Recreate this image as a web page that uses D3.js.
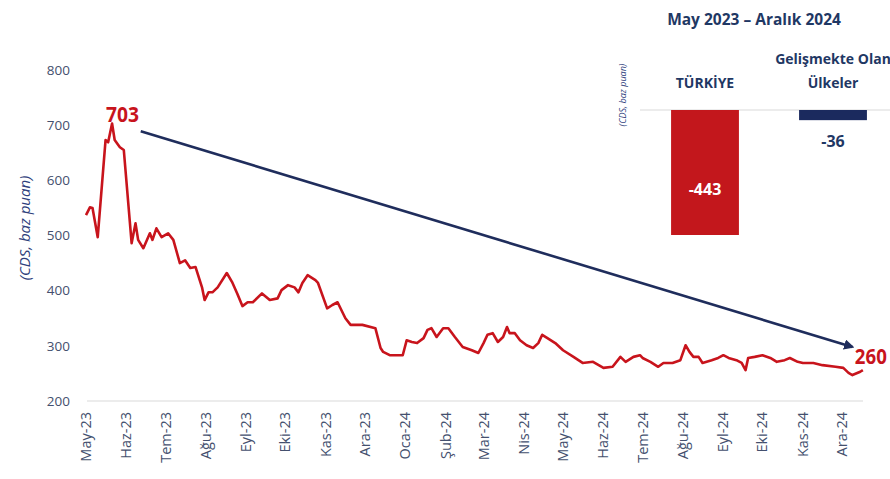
<!DOCTYPE html>
<html>
<head>
<meta charset="utf-8">
<script src="https://cdn.jsdelivr.net/npm/d3@7"></script>
<style>
  body { margin: 0; background: #fff; overflow: hidden; }
  svg { display: block; }
  text { font-family: "Open Sans", "Noto Sans", sans-serif; }
</style>
</head>
<body>
<svg id="chart" width="890" height="479"></svg>
<script>
// Türkiye 5Y CDS, daily-ish readings (baz puan)
var cdsDates = [
  "2023-05-01","2023-05-04","2023-05-06","2023-05-10","2023-05-16","2023-05-18","2023-05-21","2023-05-23","2023-05-27","2023-05-30",
  "2023-06-05","2023-06-08","2023-06-10","2023-06-14","2023-06-19","2023-06-21","2023-06-24","2023-06-28","2023-07-03","2023-07-07",
  "2023-07-12","2023-07-16","2023-07-20","2023-07-24","2023-07-29","2023-07-31","2023-08-03","2023-08-06","2023-08-10","2023-08-17",
  "2023-08-21","2023-08-25","2023-08-29","2023-09-02","2023-09-06","2023-09-13","2023-09-19","2023-09-25","2023-09-28","2023-10-03",
  "2023-10-08","2023-10-11","2023-10-14","2023-10-18","2023-10-24","2023-10-26","2023-11-02","2023-11-06","2023-11-10","2023-11-16",
  "2023-11-20","2023-11-29","2023-12-09","2023-12-13","2023-12-15","2023-12-20","2023-12-30","2024-01-02","2024-01-06","2024-01-10",
  "2024-01-15","2024-01-18","2024-01-21","2024-01-25","2024-01-30","2024-02-03","2024-02-08","2024-02-14","2024-02-21","2024-02-26",
  "2024-03-01","2024-03-04","2024-03-08","2024-03-12","2024-03-16","2024-03-19","2024-03-21","2024-03-25","2024-03-29","2024-04-03",
  "2024-04-08","2024-04-12","2024-04-15","2024-04-19","2024-04-25","2024-05-01","2024-05-09","2024-05-16","2024-05-24","2024-06-01",
  "2024-06-08","2024-06-14","2024-06-18","2024-06-24","2024-06-29","2024-07-01","2024-07-07","2024-07-13","2024-07-17","2024-07-24",
  "2024-07-30","2024-08-03","2024-08-06","2024-08-09","2024-08-13","2024-08-16","2024-08-23","2024-08-28","2024-09-01","2024-09-05",
  "2024-09-11","2024-09-15","2024-09-18","2024-09-20","2024-09-25","2024-10-01","2024-10-07","2024-10-12","2024-10-18","2024-10-22",
  "2024-10-28","2024-11-01","2024-11-09","2024-11-16","2024-11-26","2024-12-02","2024-12-06","2024-12-09","2024-12-15","2024-12-17"
];
var cdsValues = [
  537, 551, 550, 497, 673, 669, 703, 673, 660, 655,
  486, 522, 492, 477, 504, 492, 513, 497, 504, 492,
  450, 455, 441, 443, 406, 383, 397, 397, 406, 432,
  416, 395, 372, 379, 379, 395, 383, 386, 401, 410,
  406, 397, 414, 428, 419, 414, 368, 374, 379, 350,
  338, 338, 332, 296, 289, 283, 283, 310, 307, 305,
  314, 329, 332, 316, 332, 332, 316, 298, 292, 287,
  305, 320, 323, 307, 316, 334, 323, 323, 310, 301,
  296, 305, 320, 314, 305, 292, 280, 269, 271, 260,
  262, 280, 271, 280, 283, 278, 271, 262, 269, 269,
  274, 301, 289, 280, 280, 269, 274, 278, 283, 278,
  274, 269, 256, 278, 280, 283, 278, 271, 274, 278,
  271, 269, 269, 265, 262, 260, 251, 247, 253, 256
];

// trend arrow (start / end)
var arrowDates = ["2023-06-12", "2024-12-09"];
var arrowValues = [689, 298];
var peakLabel = "703";
var endLabel = "260";

var yTicks = [200, 300, 400, 500, 600, 700, 800];
var monthNames = ["Oca", "Şub", "Mar", "Nis", "May", "Haz", "Tem", "Ağu", "Eyl", "Eki", "Kas", "Ara"];

// inset: change May 2023 – Aralık 2024
var insetTitle = "May 2023 – Aralık 2024";
var insetCategories = [["TÜRKİYE"], ["Gelişmekte Olan", "Ülkeler"]];
var insetValues = [-443, -36];
var insetColors = ["#c3171c", "#1b2a5e"];

var red = "#c8141c";
var navy = "#1f2d5c";
var tickColor = "#44506e";

var parse = d3.timeParse("%Y-%m-%d");
var data = cdsDates.map(function(d, i) { return { date: parse(d), value: cdsValues[i] }; });

var svg = d3.select("#chart");

var x = d3.scaleTime()
  .domain([parse("2023-05-01"), parse("2024-12-01")])
  .range([86, 842]);

var y = d3.scaleLinear()
  .domain([200, 800])
  .range([401, 70]);

// y axis labels (no line)
svg.append("g")
  .selectAll("text")
  .data(yTicks)
  .enter().append("text")
  .attr("x", 70)
  .attr("y", function(d) { return y(d); })
  .attr("dy", "0.35em")
  .attr("text-anchor", "end")
  .style("font-size", "13.5px")
  .style("fill", tickColor)
  .text(function(d) { return d; });

svg.append("text")
  .attr("transform", "translate(30,228) rotate(-90)")
  .attr("text-anchor", "middle")
  .style("font-size", "15px")
  .style("font-style", "italic")
  .style("fill", "#2f3f7d")
  .text("(CDS, baz puan)");

// baseline
svg.append("line")
  .attr("x1", 87).attr("x2", 863)
  .attr("y1", y(200)).attr("y2", y(200))
  .style("stroke", "#d9d9d9")
  .style("stroke-width", 1.2);

// x axis month labels
var months = d3.timeMonth.range(parse("2023-05-01"), d3.timeDay.offset(parse("2024-12-01"), 1));
svg.append("g")
  .selectAll("text")
  .data(months)
  .enter().append("text")
  .attr("transform", function(d) { return "translate(" + (x(d) + 5) + ",412) rotate(-90)"; })
  .attr("text-anchor", "end")
  .style("font-size", "14.5px")
  .style("fill", tickColor)
  .text(function(d) { return monthNames[d.getMonth()] + "-" + d3.timeFormat("%y")(d); });

// CDS line
var line = d3.line()
  .x(function(d) { return x(d.date); })
  .y(function(d) { return y(d.value); });

svg.append("path")
  .datum(data)
  .attr("d", line)
  .style("fill", "none")
  .style("stroke", red)
  .style("stroke-width", 2.6)
  .style("stroke-linejoin", "round");

// trend arrow
svg.append("defs").append("marker")
  .attr("id", "head")
  .attr("viewBox", "0 0 10 10")
  .attr("refX", 8).attr("refY", 5)
  .attr("markerWidth", 4).attr("markerHeight", 4)
  .attr("orient", "auto")
  .append("path")
  .attr("d", "M0,0 L10,5 L0,10 z")
  .style("fill", navy);

svg.append("line")
  .attr("x1", x(parse(arrowDates[0]))).attr("y1", y(arrowValues[0]))
  .attr("x2", x(parse(arrowDates[1]))).attr("y2", y(arrowValues[1]))
  .style("stroke", navy)
  .style("stroke-width", 2.6)
  .attr("marker-end", "url(#head)");

// peak / end labels
var peak = data[d3.maxIndex(data, function(d) { return d.value; })];
svg.append("text")
  .attr("x", x(peak.date) - 6)
  .attr("y", y(peak.value) - 2)
  .attr("textLength", 33)
  .attr("lengthAdjust", "spacingAndGlyphs")
  .style("font-size", "21px")
  .style("font-weight", "bold")
  .style("fill", red)
  .text(peakLabel);

var last = data[data.length - 1];
svg.append("text")
  .attr("x", x(last.date) - 8)
  .attr("y", y(last.value) - 6)
  .attr("textLength", 32)
  .attr("lengthAdjust", "spacingAndGlyphs")
  .style("font-size", "21px")
  .style("font-weight", "bold")
  .style("fill", red)
  .text(endLabel);

// ---- inset bar chart ----
var bx = d3.scaleBand()
  .domain(insetCategories.map(function(d) { return d.join(" "); }))
  .range([641, 897])
  .paddingInner(0.47)
  .paddingOuter(0.235);

var by = d3.scaleLinear()
  .domain([0, -443])
  .range([110, 235]);

svg.append("text")
  .attr("x", 754).attr("y", 25)
  .attr("text-anchor", "middle")
  .style("font-size", "15.5px")
  .style("font-weight", "bold")
  .style("fill", "#1f3864")
  .text(insetTitle);

svg.append("text")
  .attr("transform", "translate(626,95) rotate(-90)")
  .attr("text-anchor", "middle")
  .style("font-size", "9px")
  .style("font-style", "italic")
  .style("fill", "#2f3f7d")
  .text("(CDS, baz puan)");

var cats = svg.append("g")
  .selectAll("text")
  .data(insetCategories)
  .enter().append("text")
  .attr("text-anchor", "middle")
  .style("font-size", "14px")
  .style("font-weight", "bold")
  .style("fill", "#1f3864");

cats.each(function(d) {
  var t = d3.select(this);
  var cx = bx(d.join(" ")) + bx.bandwidth() / 2;
  d.forEach(function(s, j) {
    t.append("tspan")
      .attr("x", cx)
      .attr("y", 88 - (d.length - 1 - j) * 24)
      .text(s);
  });
});

svg.append("line")
  .attr("x1", 640).attr("x2", 890)
  .attr("y1", by(0)).attr("y2", by(0))
  .style("stroke", "#d9d9d9")
  .style("stroke-width", 1.2);

insetValues.forEach(function(v, i) {
  var key = insetCategories[i].join(" ");
  svg.append("rect")
    .attr("x", bx(key))
    .attr("y", by(0))
    .attr("width", bx.bandwidth())
    .attr("height", by(v) - by(0))
    .style("fill", insetColors[i]);

  var inside = (by(v) - by(0)) > 40;
  svg.append("text")
    .attr("x", bx(key) + bx.bandwidth() / 2)
    .attr("y", inside ? by(v) - 40 : by(v) + 27)
    .attr("text-anchor", "middle")
    .style("font-size", "16px")
    .style("font-weight", "bold")
    .style("fill", inside ? "#fff" : "#1f3864")
    .text(v);
});
</script>
</body>
</html>
